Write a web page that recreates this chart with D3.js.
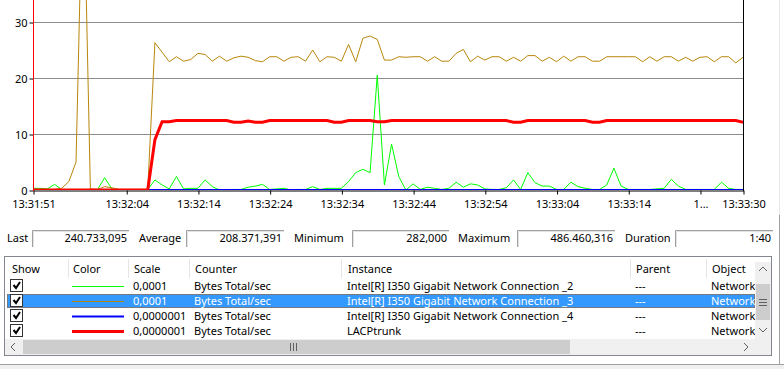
<!DOCTYPE html>
<html>
<head>
<meta charset="utf-8">
<script src="https://cdn.jsdelivr.net/npm/d3@7"></script>
<style>
  html, body { margin: 0; padding: 0; background: #ffffff; }
  svg { display: block; font-family: "Segoe UI", "Noto Sans", sans-serif; font-size: 11px; }
</style>
</head>
<body>
<script>
// ---------------- DATA ----------------
const timeLabels = ["13:31:51","13:32:04","13:32:14","13:32:24","13:32:34","13:32:44","13:32:54","13:33:04","13:33:14","1...","13:33:30"];
const timeOffsets = [0,13,23,33,43,53,63,73,83,93,99];   // seconds from first sample
const yTickValues = [0,10,20,30];                        // ticks visible in the cropped view

// plotted (scaled) values, one sample per second, 100 samples
const conn2 = [0.3,0.3,0.2,1.0,0.1,0.1,0.1,0.1,0.1,0.1,
  2.2,0.2,0.1,0.1,0.1,0.1,0.1,1.8,0.9,0.2,
  2.4,0.2,0.3,0.3,1.8,0.6,0.0,0.0,0.1,0.1,
  0.5,0.7,1.0,0.1,0.2,0.3,0.0,0.1,0.1,0.6,
  0.1,0.3,0.3,0.3,1.5,3.1,3.7,3.1,20.5,0.9,
  8.2,2.4,0.0,1.1,0.1,0.5,0.3,0.1,0.3,1.4,
  0.5,1.1,0.9,0.2,0.1,0.1,0.4,1.8,0.1,3.1,
  1.3,0.7,0.7,0.1,0.1,1.4,0.6,0.3,0.1,0.1,
  0.9,3.9,0.7,0.1,0.1,0.1,0.1,0.2,0.3,1.9,
  0.7,0.1,0.1,0.1,0.1,0.1,1.4,0.3,0.1,0.1];
const conn3 = [0.1,0.1,0.1,0.1,0.3,1.5,5.0,60,0.2,0.1,
  0.6,0.4,0.1,0.1,0.1,0.1,0.1,26.3,24.6,22.9,
  23.8,23.0,23.3,24.4,24.2,23.0,23.9,23.0,23.6,23.9,
  23.7,23.1,22.9,23.8,23.8,23.0,23.7,23.8,23.0,25.0,
  22.9,23.8,23.7,23.0,26.0,22.9,27.1,27.5,26.9,23.2,
  23.2,23.8,23.7,23.8,23.8,23.0,23.8,23.0,23.0,24.4,
  25.1,22.9,23.9,23.2,23.8,23.8,23.0,23.7,23.0,24.0,
  24.0,23.0,23.7,22.9,23.9,23.0,23.8,23.8,23.0,23.0,
  23.8,23.8,23.8,23.8,23.8,22.9,23.8,23.0,23.8,23.8,
  23.0,23.7,23.0,23.7,23.8,22.9,23.8,23.8,22.7,23.7];
const conn4 = [0,0,0,0,0,0,0,0,0,0, 0,0,0,0,0,0,0,0,0,0,
  0,0,0,0,0,0,0,0,0,0, 0,0,0,0,0,0,0,0,0,0,
  0,0,0,0,0,0,0,0,0,0, 0,0,0,0,0,0,0,0,0,0,
  0,0,0,0,0,0,0,0,0,0, 0,0,0,0,0,0,0,0,0,0,
  0,0,0,0,0,0,0,0,0,0, 0,0,0,0,0,0,0,0,0,0];
const lacp = [0,0,0,0,0,0,0,0,0,0,
  0,0,0,0,0,0,0,9.0,12.2,12.2,
  12.4,12.4,12.4,12.4,12.4,12.4,12.4,12.4,12.1,12.1,
  12.3,12.1,12.1,12.4,12.4,12.4,12.4,12.4,12.4,12.4,
  12.4,12.4,12.1,12.1,12.4,12.4,12.4,12.4,12.2,12.2,
  12.4,12.4,12.4,12.4,12.4,12.4,12.4,12.4,12.4,12.4,
  12.4,12.4,12.4,12.4,12.4,12.4,12.4,12.1,12.1,12.4,
  12.4,12.4,12.4,12.4,12.4,12.4,12.4,12.4,12.1,12.1,
  12.4,12.4,12.4,12.4,12.4,12.4,12.4,12.4,12.4,12.4,
  12.4,12.4,12.4,12.4,12.4,12.4,12.4,12.4,12.4,12.1];

const statLabels = ["Last","Average","Minimum","Maximum","Duration"];
const statValues = ["240.733,095","208.371,391","282,000","486.460,316","1:40"];

const columnNames = ["Show","Color","Scale","Counter","Instance","Parent","Object"];
const rowScales = ["0,0001","0,0001","0,0000001","0,0000001"];
const rowCounters = ["Bytes Total/sec","Bytes Total/sec","Bytes Total/sec","Bytes Total/sec"];
const rowInstances = ["Intel[R] I350 Gigabit Network Connection _2","Intel[R] I350 Gigabit Network Connection _3","Intel[R] I350 Gigabit Network Connection _4","LACPtrunk"];
const rowParents = ["---","---","---","---"];
const rowObjects = ["Network","Network","Network","Network"];

// ---------------- STYLE ----------------
const seriesList = [
  {values: conn2, color: "#00ff00", width: 1},
  {values: conn3, color: "#b8860b", width: 1},
  {values: conn4, color: "#0000ff", width: 2},
  {values: lacp,  color: "#ff0000", width: 3}
];
const selectedRow = 1;

const W = 784, H = 369;
const svg = d3.select("body").append("svg").attr("width", W).attr("height", H);

// ---------------- CHART ----------------
// full scale 0..100; the view is cropped so only 0..~34 is visible
const x = d3.scaleLinear().domain([0, 99]).range([33, 743]);
const y = d3.scaleLinear().domain([0, 100]).range([190, -370]);

svg.append("defs").append("clipPath").attr("id","plotclip")
  .append("rect").attr("x", 33).attr("y", -370).attr("width", 710).attr("height", 560);

// grid
svg.append("g").selectAll("line").data(yTickValues.filter(d => d > 0)).join("line")
  .attr("x1", 33).attr("x2", 743)
  .attr("y1", d => Math.round(y(d)) + 0.5).attr("y2", d => Math.round(y(d)) + 0.5)
  .attr("stroke", "#8c8c8c").attr("stroke-width", 1);

// y axis
const yAxis = svg.append("g").attr("transform", "translate(33.5,0.5)")
  .call(d3.axisLeft(y).tickValues(yTickValues).tickSize(4).tickPadding(2));
yAxis.select(".domain").remove();
yAxis.selectAll("text").attr("font-family", "Segoe UI, Noto Sans, sans-serif").attr("font-size", 11).attr("fill", "#000");
yAxis.selectAll("line").attr("stroke", "#000");

// x axis
const xAxis = svg.append("g").attr("transform", "translate(0.5,190.5)")
  .call(d3.axisBottom(x).tickValues(timeOffsets).tickFormat((d, i) => timeLabels[i]).tickSize(4).tickPadding(6).tickSizeOuter(0));
xAxis.selectAll("text").attr("font-family", "Segoe UI, Noto Sans, sans-serif").attr("font-size", 11).attr("fill", "#000");
xAxis.select(".domain").attr("stroke", "#000");
xAxis.selectAll("line").attr("stroke", "#000");

// series
const line = d3.line().x((d, i) => x(i)).y(d => y(d));
const plot = svg.append("g").attr("clip-path", "url(#plotclip)");
seriesList.forEach(s => {
  plot.append("path").datum(s.values)
    .attr("fill", "none").attr("stroke", s.color).attr("stroke-width", s.width)
    .attr("stroke-linejoin", "miter").attr("d", line);
});

// left red time bar and right border
svg.append("line").attr("x1", 33.5).attr("x2", 33.5).attr("y1", 0).attr("y2", 191)
  .attr("stroke", "#ff0000").attr("stroke-width", 1);
svg.append("line").attr("x1", 743.5).attr("x2", 743.5).attr("y1", 0).attr("y2", 191)
  .attr("stroke", "#000").attr("stroke-width", 1);

// ---------------- STATS ROW ----------------
const statLabelX = [7, 139, 294, 458, 625];
const statBoxX = [32, 186, 352, 517, 675];
const statBoxW = [97, 98, 97, 98, 98];
const stats = svg.append("g");
statLabels.forEach((lab, i) => {
  stats.append("text").attr("x", statLabelX[i]).attr("y", 242).attr("fill", "#000").text(lab);
  const bx = statBoxX[i], bw = statBoxW[i];
  stats.append("path").attr("d", `M${bx + 0.5},247 V230.5 H${bx + bw}`)
    .attr("fill", "none").attr("stroke", "#a0a0a0");
  stats.append("path").attr("d", `M${bx + 1.5},247 V231.5 H${bx + bw}`)
    .attr("fill", "none").attr("stroke", "#e3e3e3");
  stats.append("text").attr("x", bx + bw - 2).attr("y", 242).attr("text-anchor", "end")
    .attr("fill", "#000").text(statValues[i]);
});

// ---------------- COUNTER TABLE ----------------
const tbl = svg.append("g");
const tblX = 4, tblY = 256, tblW = 768, tblH = 100;
tbl.append("rect").attr("x", tblX + 0.5).attr("y", tblY + 0.5).attr("width", tblW - 1).attr("height", tblH - 1)
  .attr("fill", "#fff").attr("stroke", "#828790");

const colX = [12, 73, 134, 195, 348, 636, 712];
const colSep = [68, 128, 189, 341, 630, 706];
const headerCY = 269;
const rowCY = [286, 301, 316, 331];
const listRight = 755;

const list = tbl.append("g");
colSep.forEach(cx => {
  list.append("line").attr("x1", cx + 0.5).attr("x2", cx + 0.5).attr("y1", 259).attr("y2", 278)
    .attr("stroke", "#e5e5e5");
});
columnNames.forEach((c, i) => {
  list.append("text").attr("x", colX[i]).attr("y", headerCY + 4).attr("fill", "#000").text(c);
});

// selected row background
list.append("rect").attr("x", 7).attr("y", rowCY[selectedRow] - 7).attr("width", listRight - 7).attr("height", 14)
  .attr("fill", "#3399ff");
list.append("rect").attr("x", 7.5).attr("y", rowCY[selectedRow] - 6.5).attr("width", listRight - 8).attr("height", 13)
  .attr("fill", "none").attr("stroke", "#c05a00").attr("stroke-dasharray", "1,1");

rowCY.forEach((cy, r) => {
  const txtColor = r === selectedRow ? "#ffffff" : "#000";
  // checkbox
  list.append("rect").attr("x", 10.5).attr("y", cy - 6.5).attr("width", 12).attr("height", 12)
    .attr("fill", "#fff").attr("stroke", "#333");
  list.append("path").attr("d", `M13.5,${cy - 1} L16,${cy + 2} L20,${cy - 4}`)
    .attr("fill", "none").attr("stroke", "#000").attr("stroke-width", 2);
  // colour sample
  const s = seriesList[r];
  list.append("line").attr("x1", 72).attr("x2", 124).attr("y1", cy + 0.5).attr("y2", cy + 0.5)
    .attr("stroke", s.color).attr("stroke-width", s.width);
  list.append("text").attr("x", 133).attr("y", cy + 4).attr("fill", txtColor).text(rowScales[r]);
  list.append("text").attr("x", 194).attr("y", cy + 4).attr("fill", txtColor).text(rowCounters[r]);
  list.append("text").attr("x", 347).attr("y", cy + 4).attr("fill", txtColor).text(rowInstances[r]);
  list.append("text").attr("x", 635).attr("y", cy + 4).attr("fill", txtColor).text(rowParents[r]);
  list.append("text").attr("x", 711).attr("y", cy + 4).attr("fill", txtColor).text(rowObjects[r]);
});

// vertical scrollbar
const vs = tbl.append("g");
vs.append("rect").attr("x", 755).attr("y", 262).attr("width", 16).attr("height", 77).attr("fill", "#f0f0f0");
vs.append("rect").attr("x", 756).attr("y", 284).attr("width", 14).attr("height", 36).attr("fill", "#cdcdcd");
[-3, 0, 3].forEach(dy => vs.append("line").attr("x1", 759).attr("x2", 767)
  .attr("y1", 302.5 + dy).attr("y2", 302.5 + dy).attr("stroke", "#606060"));
vs.append("path").attr("d", "M759,271 L763,267 L767,271").attr("fill", "none").attr("stroke", "#606060");
vs.append("path").attr("d", "M759,328 L763,332 L767,328").attr("fill", "none").attr("stroke", "#606060");

// horizontal scrollbar
const hs = tbl.append("g");
hs.append("rect").attr("x", 5).attr("y", 339).attr("width", 766).attr("height", 16).attr("fill", "#f0f0f0");
hs.append("rect").attr("x", 23).attr("y", 340).attr("width", 547).attr("height", 14).attr("fill", "#cdcdcd");
[-3, 0, 3].forEach(dx => hs.append("line").attr("x1", 293.5 + dx).attr("x2", 293.5 + dx)
  .attr("y1", 343).attr("y2", 351).attr("stroke", "#606060"));
hs.append("path").attr("d", "M15,343 L11,347 L15,351").attr("fill", "none").attr("stroke", "#606060");
hs.append("path").attr("d", "M744,343 L748,347 L744,351").attr("fill", "none").attr("stroke", "#606060");
hs.append("rect").attr("x", 755).attr("y", 339).attr("width", 16).attr("height", 16).attr("fill", "#f0f0f0");

// window frame lines
svg.append("rect").attr("x", 0).attr("y", 365).attr("width", W).attr("height", 4).attr("fill", "#f0f0f0");
svg.append("line").attr("x1", 0).attr("x2", W).attr("y1", 364.5).attr("y2", 364.5).attr("stroke", "#a0a0a0");
svg.append("line").attr("x1", 779.5).attr("x2", 779.5).attr("y1", 0).attr("y2", 215).attr("stroke", "#e6e6e6");
svg.append("line").attr("x1", 779.5).attr("x2", 779.5).attr("y1", 215).attr("y2", 365).attr("stroke", "#a0a0a0");
</script>
</body>
</html>
